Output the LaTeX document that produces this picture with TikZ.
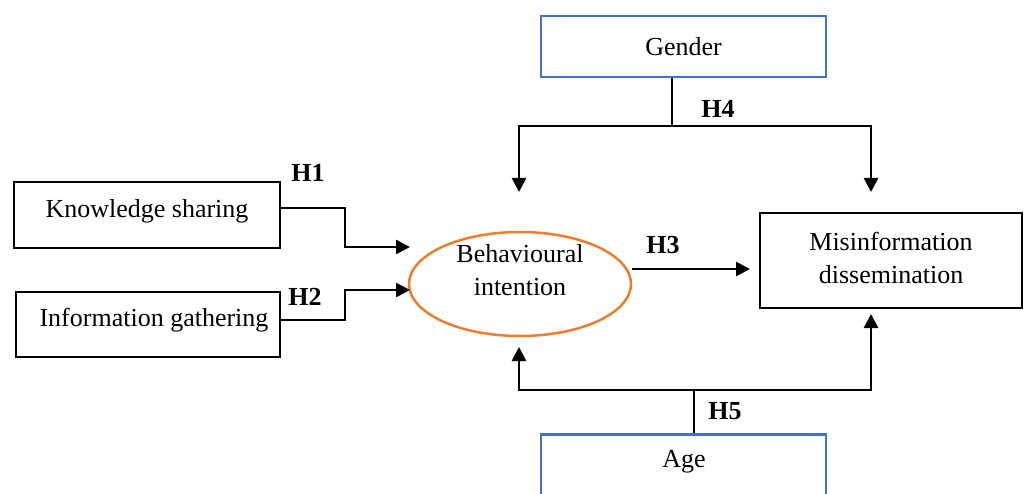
\documentclass[tikz,border=0pt]{standalone}
\usepackage{fontspec}
\setmainfont{Liberation Serif}
\usetikzlibrary{arrows.meta,shapes.geometric}
\definecolor{bblue}{HTML}{4472C4}
\definecolor{borange}{HTML}{ED7D31}
\begin{document}
\begin{tikzpicture}[x=1pt,y=-1pt,
  every node/.style={font=\fontsize{26}{33}\selectfont},
  blackbox/.style={draw=black,line width=2.8pt,inner sep=0pt,align=center},
  bluebox/.style={draw=bblue,line width=2.8pt,inner sep=0pt,align=center},
  oval/.style={draw=borange,line width=2.5pt,ellipse,inner sep=0pt},
  conn/.style={line width=2.6pt},
  arr/.style={line width=2.6pt,-{Triangle[length=14pt,width=14pt]}},
  hlab/.style={font=\fontsize{26}{30}\selectfont\bfseries,inner sep=0pt}]
\useasboundingbox (0,0) rectangle (1027,494);
\clip (0,0) rectangle (1027,494);
% boxes
\node[blackbox,minimum width=266pt,minimum height=66pt] (ks) at (147,215) {};
\node at (147,211) {Knowledge sharing};
\node[blackbox,minimum width=264pt,minimum height=65pt] (ig) at (148,324.5) {};
\node at (154,320) {Information gathering};
\node[oval,minimum width=222pt,minimum height=104pt] (bi) at (520,284) {};
\node[align=center] (bit) at (520,270) {Behavioural\\intention};
\node[blackbox,minimum width=262pt,minimum height=95pt] (md) at (891,260.5) {};
\node[align=center] (mdt) at (891,258) {Misinformation\\dissemination};
\node[bluebox,minimum width=285pt,minimum height=61pt] (gen) at (683.5,46.5) {Gender};
\node[bluebox,minimum width=285pt,minimum height=90pt,anchor=north] (age) at (683.5,433) {};
\node at (684,462) {Age};
% coordinates
\coordinate (j4) at (672,126);
\coordinate (j5) at (694,390);
\coordinate (g1) at (519,192);
\coordinate (g2) at (871,192);
\coordinate (a1) at (519,347);
\coordinate (a2) at (871,314);
\coordinate (k1) at (410,247);
\coordinate (i1) at (410,290);
\coordinate (m1) at (750,269);
% connectors
\draw[arr] (ks.east |- 0,208) -- (345,208) |- (k1);
\draw[arr] (ig.east |- 0,320) -- (345,320) |- (i1);
\draw[arr] (bi.east |- 0,269) -- (m1);
\draw[conn] (gen.south -| j4) -- (j4);
\draw[arr] (j4) -| (g1);
\draw[arr] (j4) -| (g2);
\draw[conn] (age.north -| j5) -- (j5);
\draw[arr] (j5) -| (a1);
\draw[arr] (j5) -| (a2);
% labels
\node[hlab] (h1) at (308,173) {H1};
\node[hlab] (h2) at (305,297) {H2};
\node[hlab] (h3) at (663,245) {H3};
\node[hlab] (h4) at (718,109) {H4};
\node[hlab] (h5) at (725,411) {H5};
\end{tikzpicture}
\end{document}
